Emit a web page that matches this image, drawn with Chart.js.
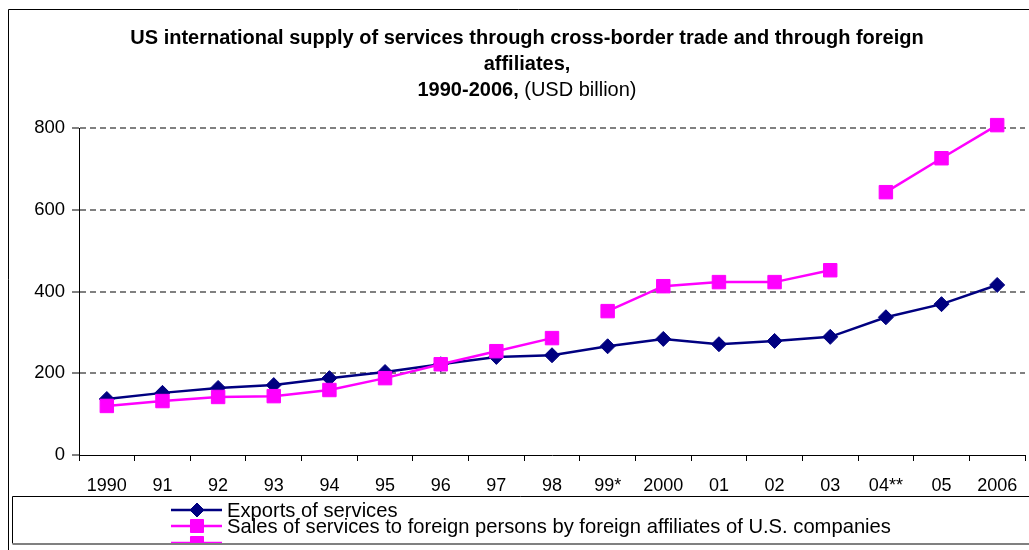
<!DOCTYPE html>
<html><head><meta charset="utf-8">
<script src="https://cdn.jsdelivr.net/npm/chart.js@4/dist/chart.umd.min.js"></script>
<style>html,body{margin:0;padding:0;background:#fff}#wrap{width:1029px;height:550px;position:relative}</style>
</head><body><div id="wrap"><canvas id="c"></canvas></div>
<script>
const categories = ['1990','91','92','93','94','95','96','97','98','99*','2000','01','02','03','04**','05','2006'];
const exportsOfServices = [137,152,164,171,188,203,222,240,244,266,284,271,279,289,337,369,416];
const salesByAffiliates = [120,132,142,144,159,188,222,254,286,352,413,423,423,452,643,726,807];
const salesBreaksAfter = [8, 13];
const yTicks = [0,200,400,600,800];
const seriesNames = ['Exports of services','Sales of services to foreign persons by foreign affiliates of U.S. companies'];
const titleLine1 = 'US international supply of services through cross-border trade and through foreign';
const titleLine2 = 'affiliates,';
const titleLine3Bold = '1990-2006,';
const titleLine3Normal = ' (USD billion)';

const FONT = '"Liberation Sans", Arial, sans-serif';
const NAVY = '#000080', MAG = '#FF00FF';

const framePlugin = {
  id: 'frame',
  afterDraw(chart) {
    const ctx = chart.ctx;
    ctx.save();
    // outer frame
    ctx.strokeStyle = '#000'; ctx.lineWidth = 1;
    ctx.beginPath(); ctx.moveTo(8.5, 550); ctx.lineTo(8.5, 9.5); ctx.lineTo(1029, 9.5); ctx.stroke();
    // title
    ctx.fillStyle = '#000'; ctx.textAlign = 'center'; ctx.textBaseline = 'middle';
    const cx = 527;
    ctx.font = 'bold 20px ' + FONT;
    ctx.fillText(titleLine1, cx, 38);
    ctx.fillText(titleLine2, cx, 64);
    const wB = ctx.measureText(titleLine3Bold).width;
    ctx.font = '20px ' + FONT;
    const wN = ctx.measureText(titleLine3Normal).width;
    const x0 = cx - (wB + wN) / 2;
    ctx.textAlign = 'left';
    ctx.font = 'bold 20px ' + FONT;
    ctx.fillText(titleLine3Bold, x0, 90);
    ctx.font = '20px ' + FONT;
    ctx.fillText(titleLine3Normal, x0 + wB, 90);
    // legend box
    const bx = 12.5, by = 496.5, bb = 543.5;
    ctx.strokeStyle = '#000'; ctx.lineWidth = 1;
    ctx.beginPath(); ctx.moveTo(1029, by); ctx.lineTo(bx, by); ctx.lineTo(bx, bb); ctx.stroke();
    ctx.strokeStyle = '#808080'; ctx.lineWidth = 2;
    ctx.beginPath(); ctx.moveTo(bx, bb + 0.5); ctx.lineTo(1029, bb + 0.5); ctx.stroke();
    ctx.save();
    ctx.beginPath(); ctx.rect(13, 497, 1016, bb - 497 - 0.5); ctx.clip();
    const entries = [
      {y: 510, color: NAVY, style: 'rectRot', r: 7, text: seriesNames[0]},
      {y: 526, color: MAG, style: 'rect', r: 9.2, text: seriesNames[1]},
      {y: 543, color: MAG, style: 'rect', r: 9.2, text: ''}
    ];
    entries.forEach(e => {
      ctx.strokeStyle = e.color; ctx.lineWidth = 2.5;
      ctx.beginPath(); ctx.moveTo(171, e.y); ctx.lineTo(222, e.y); ctx.stroke();
      ctx.fillStyle = e.color; ctx.strokeStyle = e.color; ctx.lineWidth = 1;
      Chart.helpers.drawPoint(ctx, {pointStyle: e.style, radius: e.r, borderWidth: 1, rotation: 0}, 197, e.y);
      ctx.fillStyle = '#000'; ctx.font = '20.2px ' + FONT; ctx.textAlign = 'left'; ctx.textBaseline = 'middle';
      if (e.text) ctx.fillText(e.text, 227, e.y + 1);
    });
    ctx.restore();
    ctx.restore();
  }
};

new Chart(document.getElementById('c'), {
  type: 'line',
  data: {
    labels: categories,
    datasets: [
      {label: seriesNames[0], data: exportsOfServices, borderColor: NAVY, backgroundColor: NAVY,
       borderWidth: 2.5, pointStyle: 'rectRot', pointRadius: 7.5, pointBorderWidth: 1,
       pointBackgroundColor: NAVY, pointBorderColor: NAVY, order: 1, clip: false, tension: 0},
      {label: seriesNames[1], data: salesByAffiliates, borderColor: MAG, backgroundColor: MAG,
       borderWidth: 2.5, pointStyle: 'rect', pointRadius: 9.5, pointBorderWidth: 1,
       pointBackgroundColor: MAG, pointBorderColor: MAG, order: 0, clip: false, tension: 0,
       segment: {borderColor: c => salesBreaksAfter.includes(c.p0DataIndex) ? 'rgba(0,0,0,0)' : MAG}}
    ]
  },
  options: {
    responsive: true, maintainAspectRatio: false, animation: false, devicePixelRatio: 1,
    layout: {autoPadding: false, padding: {left: 0, right: 4, top: 128, bottom: 54}},
    plugins: {legend: {display: false}, title: {display: false}, tooltip: {enabled: false}},
    scales: {
      x: {
        type: 'category', offset: true,
        grid: {offset: true, drawOnChartArea: false, drawTicks: true, tickLength: 6, color: '#000', tickColor: '#000'},
        border: {display: true, color: '#000', width: 1},
        ticks: {font: {size: 18, family: FONT}, color: '#000', padding: 14, maxRotation: 0, autoSkip: false},
        afterFit: s => { s.height = 41; s.paddingLeft = 0; s.paddingRight = 0; }
      },
      y: {
        min: 0, max: 800,
        afterBuildTicks: s => { s.ticks = yTicks.map(v => ({value: v})); },
        grid: {color: c => (c.tick && c.tick.value === 0) ? 'rgba(0,0,0,0)' : '#808080', tickColor: '#000', tickLength: 7, lineWidth: 2, tickWidth: 1},
        border: {display: true, color: '#000', width: 1, dash: [6, 4]},
        ticks: {font: {size: 18.5, family: FONT}, color: '#000', padding: 7},
        afterFit: s => { s.width = 79; s.paddingTop = 0; s.paddingBottom = 0; }
      }
    }
  },
  plugins: [framePlugin]
});
</script></body></html>
